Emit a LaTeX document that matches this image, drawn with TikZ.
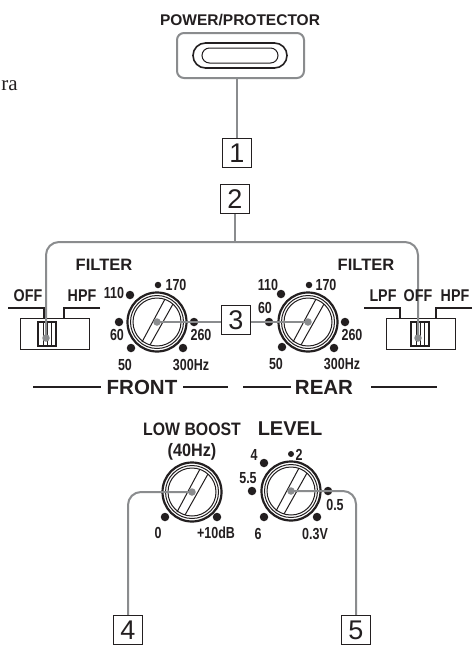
\documentclass[tikz,border=0pt]{standalone}
\usepackage{fontspec}
\setmainfont{Liberation Sans}
\newfontfamily\serifpart{Liberation Serif}
\usetikzlibrary{calc}
\definecolor{ink}{HTML}{231F20}
\definecolor{lead}{HTML}{8A8C8E}
\newcommand{\fsz}[1]{\fontsize{#1}{#1}\selectfont\bfseries}
\tikzset{
  lab/.style={inner sep=0pt,text=ink,font=\fsz{17},xscale=.84},
  numlab/.style={inner sep=0pt,text=ink,font=\fsz{16},xscale=.78},
  head/.style={inner sep=0pt,text=ink,font=\fsz{16.5}},
  band/.style={inner sep=0pt,text=ink,font=\fsz{20.5}},
  numbox/.style={draw=ink,line width=1.4pt,minimum size=29pt,inner sep=0pt,text=ink,font=\fontsize{27}{27}\selectfont},
  knob/.style={circle,draw=ink,line width=2.2pt,minimum size=59pt,inner sep=0pt},
  ring/.style={draw=ink,line width=1pt},
  dot/.style={circle,fill=ink,inner sep=0pt,minimum size=#1},
  dot/.default=8pt,
  lead/.style={draw=lead,line width=2pt,rounded corners=13pt},
  hub/.style={circle,fill=lead,inner sep=0pt,minimum size=7.5pt},
  rail/.style={draw=ink,line width=1.7pt},
  bar/.style={draw=ink,line width=2.6pt},
  slidebox/.style={draw=ink,line width=1pt,inner sep=0pt,minimum width=69pt,minimum height=31pt},
  slider/.style={draw=ink,line width=1.5pt,inner sep=0pt,minimum width=18pt,minimum height=24pt}
}
\newcommand{\dial}[3]{%
  \node[knob] (#1) at (#2,#3) {};
  \draw[ring] (#1.center) circle[radius=26.5pt];
  \draw[ring] (#1.center) circle[radius=24pt];
  \draw[ring] ($(#1.center)+(-15,20)$) -- ($(#1.center)+(8,-23)$);
  \draw[ring] ($(#1.center)+(-7,23)$) -- ($(#1.center)+(16,-18)$);
}
\newcommand{\slidebody}[2]{%
  \node[slider] (#1) at (#2) {};
  \foreach \d in {-4,0,4}
    \draw[ink,line width=.6pt] ($(#1.north)+(\d,0)$) -- ($(#1.south)+(\d,0)$);
}
\begin{document}
\begin{tikzpicture}[x=1pt,y=-1pt]
\useasboundingbox (0,0) rectangle (476,646);
\fill[white] (0,0) rectangle (476,646);

% stray text
\node[anchor=base east,inner sep=0pt,text=ink,font=\serifpart\fontsize{21}{21}\selectfont] (stray) at (18,90) {ra};

% power
\node[inner sep=0pt,text=ink,font=\fsz{15.5}] (ptitle) at (240,20) {POWER/PROTECTOR};
\node[draw=lead,line width=2pt,rounded corners=7pt,minimum width=127pt,minimum height=45pt,inner sep=0pt] (pframe) at (240.5,55.5) {};
\node[draw=ink,line width=1.6pt,rounded corners=12.5pt,minimum width=94pt,minimum height=25pt,inner sep=0pt] (pouter) at (240,55.5) {};
\node[draw=ink,line width=1pt,rounded corners=7.5pt,minimum width=76pt,minimum height=15pt,inner sep=0pt] (pinner) at (240,55.5) {};

% numbered boxes
\node[numbox] (n1) at (237,153) {1};
\node[numbox] (n2) at (235,199) {2};
\node[numbox] (n3) at (236,320) {3};
\node[numbox] (n4) at (128,630) {4};
\node[numbox] (n5) at (356,630) {5};

% dials
\dial{fk}{157}{322}
\dial{rk}{308}{322}
\dial{lk}{192}{492}
\dial{vk}{291}{491}

% switch bodies
\node[slidebox] (ls) at (54.5,333.5) {};
\node[slidebox] (rs) at (420.5,333.5) {};
\slidebody{lsl}{47,334}
\slidebody{rsl}{420,334}
\coordinate (lhub) at (46,338);
\coordinate (rhub) at (418,338);

% rails
\draw[rail] (8,308) -- (44,308) -- (44,318);
\draw[rail] (100,308) -- (64,308) -- (64,318);
\draw[rail] (364,308) -- (400,308) -- (400,318);
\draw[rail] (472,308) -- (436,308) -- (436,318);

% dots
\foreach \n/\p/\s in {a/{130,295}/8.5pt,b/{158,285}/6.5pt,c/{119,322}/8.5pt,d/{194,322}/8.5pt,e/{131,348}/8.5pt,f/{183,348}/8.5pt,
  g/{281,294}/8.5pt,h/{309,285}/6.5pt,i/{269,322}/8.5pt,j/{345,322}/8.5pt,k/{282,347}/8.5pt,l/{334,348}/8.5pt,
  m/{165,517}/8.5pt,o/{217,517}/8.5pt,
  p/{264,463}/8.5pt,q/{291,454}/6pt,r/{252,491}/8.5pt,s/{328,491}/8.5pt,t/{264,517}/8.5pt,u/{317,517}/8.5pt}
  \node[dot=\s] (dot\n) at (\p) {};

% leaders
\draw[lead] (n1.north) -- (n1.north |- pframe.south);
\draw[lead] (lhub) -- (46,242) -- (418,242) -- (rhub);
\coordinate (n2j) at (n2.south);
\draw[lead,rounded corners=0pt] (n2j) -- (n2j |- 0,242);
\draw[lead] (n3.west |- fk.center) -- (fk.center);
\draw[lead] (n3.east |- rk.center) -- (rk.center);
\draw[lead] (n4.north) |- (lk.center);
\draw[lead] (n5.north) |- (vk.center);
\foreach \h/\p in {ha/fk.center,hb/rk.center,hc/lk.center,hd/vk.center,he/lhub,hf/rhub}
  \node[hub] (\h) at (\p) {};

% labels
\node[head] (t1) at (104,265) {FILTER};
\node[head] (t2) at (366,265) {FILTER};
\node[lab] at (28,296) {OFF};
\node[lab] at (82,296) {HPF};
\node[lab] at (383,296) {LPF};
\node[lab] at (418,296) {OFF};
\node[lab] at (455,296) {HPF};

\foreach \p/\t in {{114,293}/110,{176,285}/170,{117,335}/60,{201,335}/260,{125,365}/50,{191,365}/300Hz,
  {268,285}/110,{326,285}/170,{265,308}/60,{352,335}/260,{276,364}/50,{342,364}/300Hz,
  {158,533}/0,{216,533}/+10dB,
  {254,455}/4,{299,455}/2,{248,478}/5.5,{335,505}/0.5,{258,534}/6,{315,534}/0.3V}
  \node[numlab] at (\p) {\t};

\node[band] (front) at (142,387) {FRONT};
\node[band] (rear) at (324,387) {REAR};
\draw[bar] (33,387) -- (101,387);
\draw[bar] (183,387) -- (228,387);
\draw[bar] (243,387) -- (291,387);
\draw[bar] (371,387) -- (437,387);

\node[inner sep=0pt,text=ink,font=\fsz{18},xscale=.88] (lb) at (192,429) {LOW BOOST};
\node[inner sep=0pt,text=ink,font=\fsz{18},xscale=.9] (hz) at (192,452) {(40Hz)};
\node[inner sep=0pt,text=ink,font=\fsz{20}] (lv) at (290,429) {LEVEL};
\end{tikzpicture}
\end{document}
